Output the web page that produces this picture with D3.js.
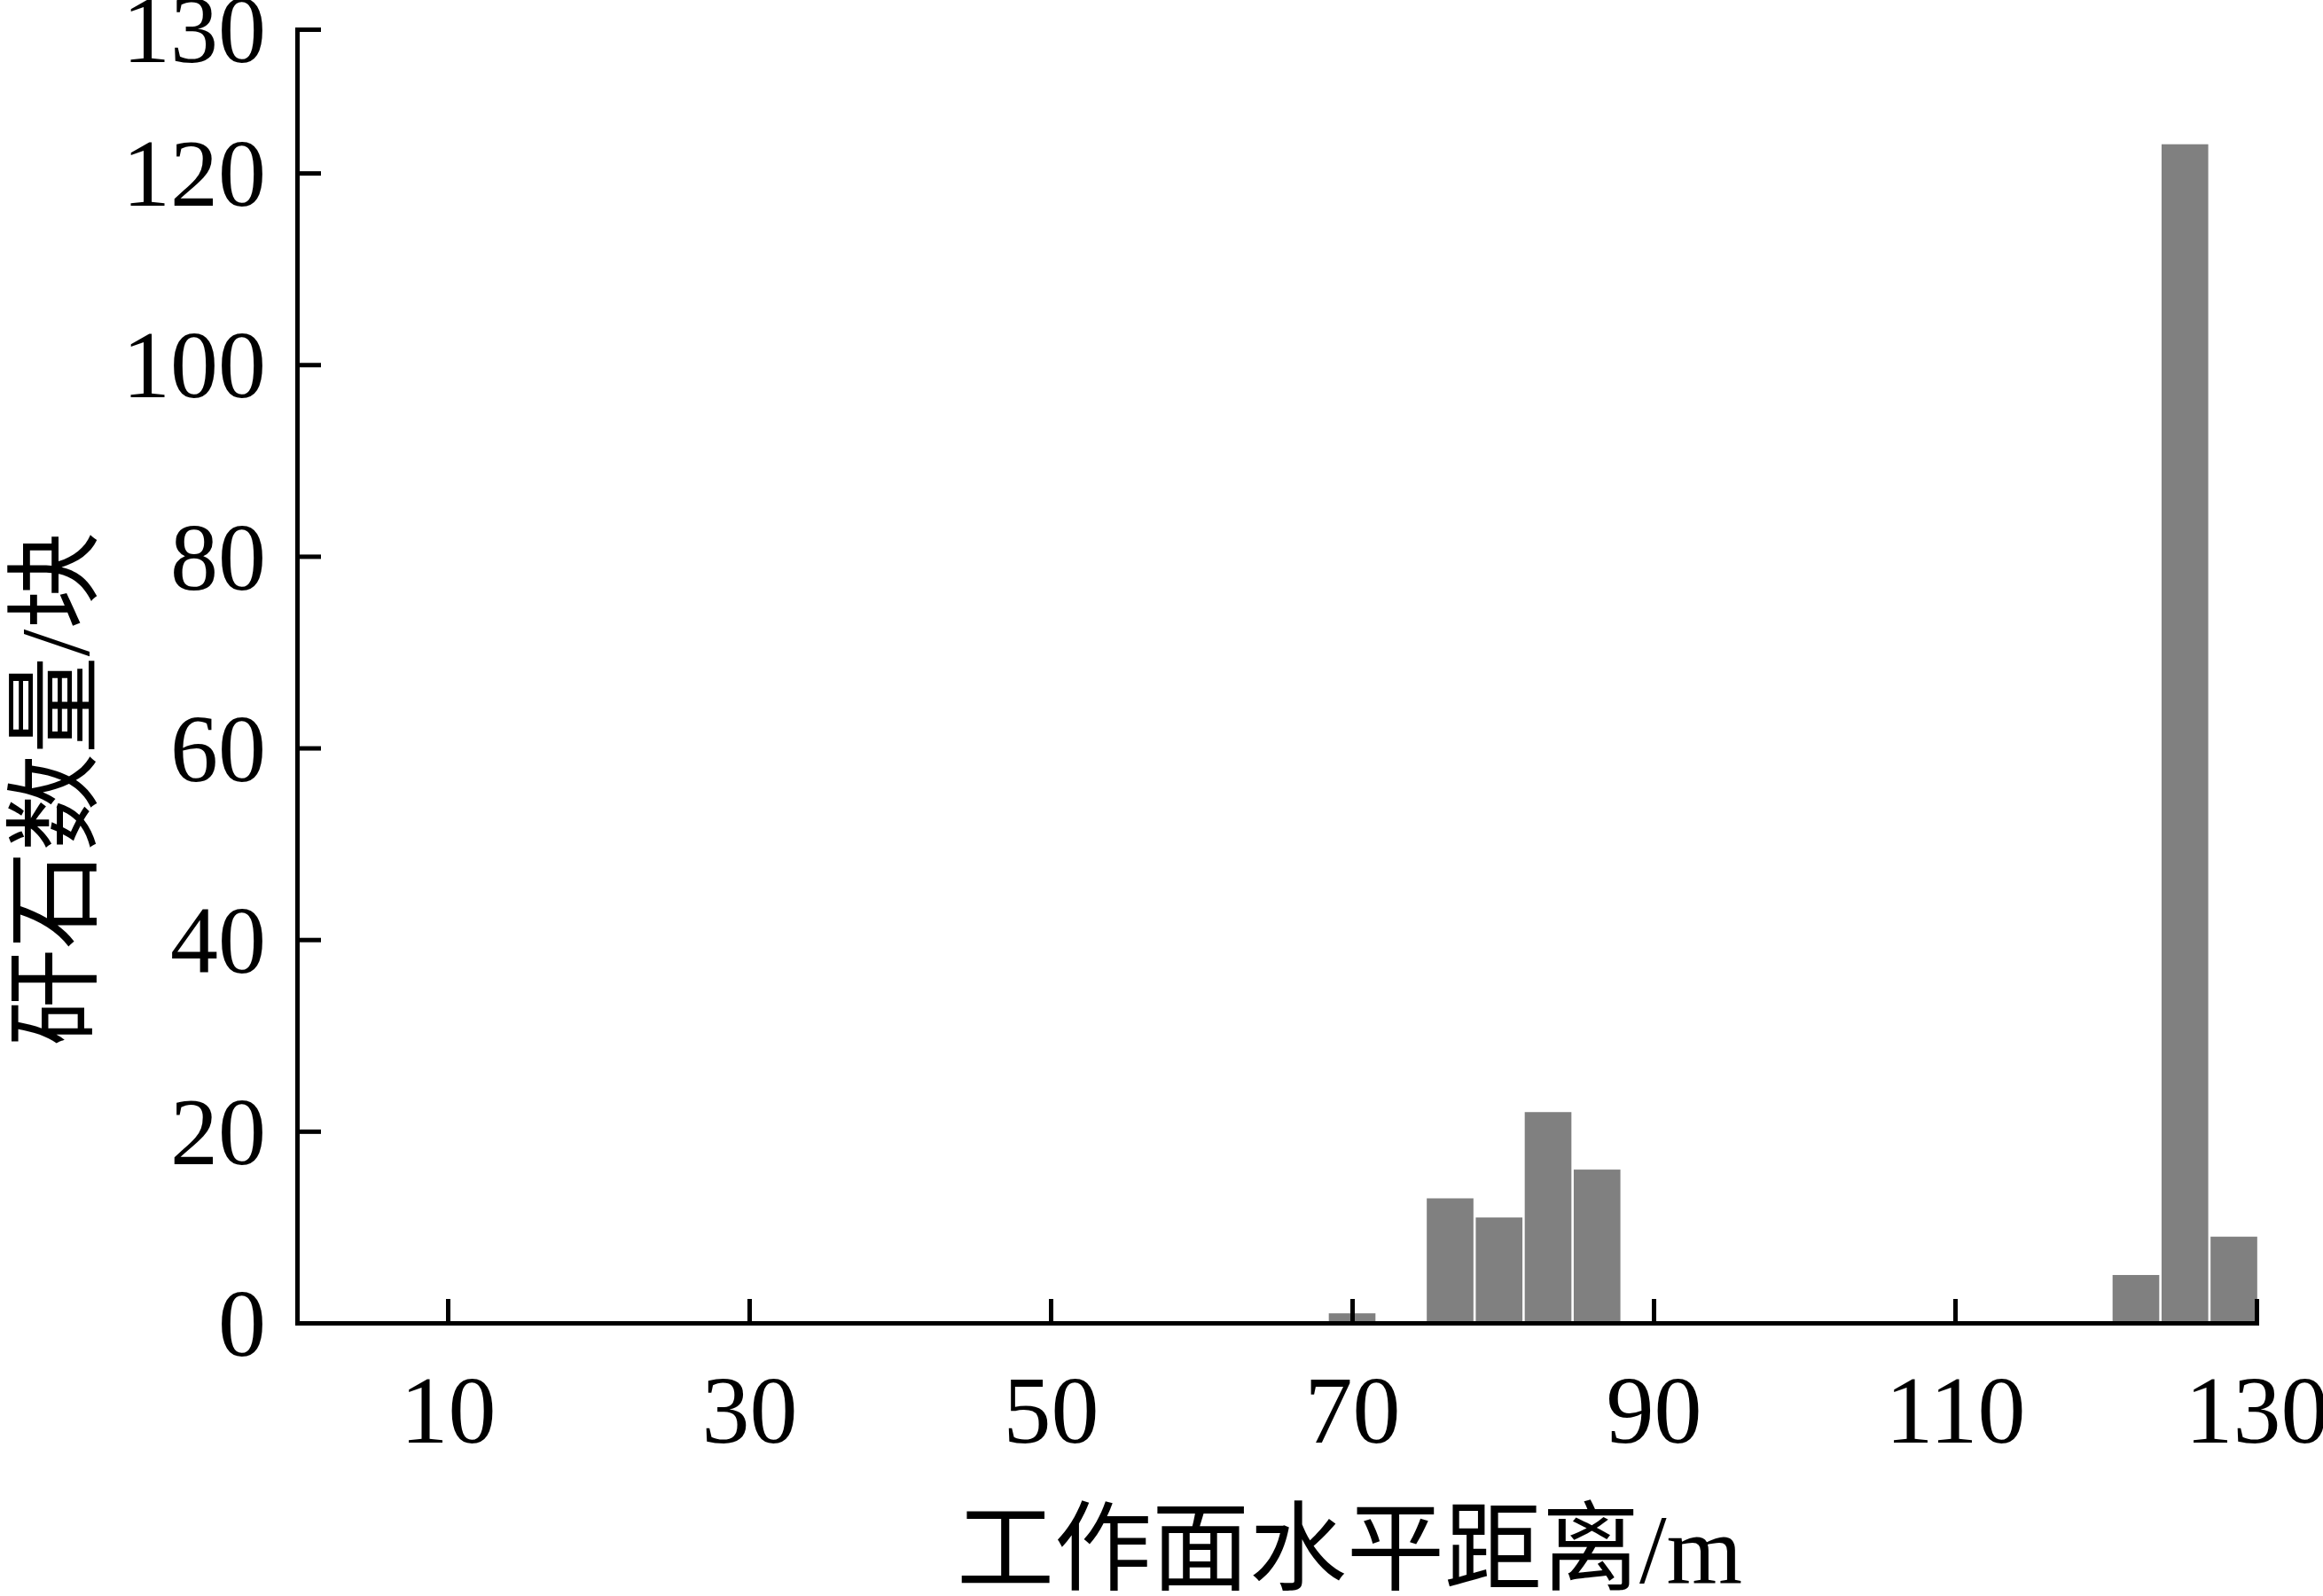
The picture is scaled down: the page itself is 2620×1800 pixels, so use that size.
<!DOCTYPE html>
<html>
<head>
<meta charset="utf-8">
<script src="https://cdn.jsdelivr.net/npm/d3@7"></script>
<style>
  body { margin: 0; background: #fff; }
  text { font-family: "Liberation Serif", "Times New Roman", "Noto Sans CJK SC", serif; fill: #000; }
</style>
</head>
<body>
<div id="chart"></div>
<script>
// bin centres (m) and gangue counts
var binCenters = [70, 76.5, 79.75, 83, 86.25, 122, 125.25, 128.5];
var counts = [1, 13, 11, 22, 16, 5, 123, 9];
var binWidth = 3.25;

var xTicks = [10, 30, 50, 70, 90, 110, 130];
var yTicks = [0, 20, 40, 60, 80, 100, 120, 135];
var yTickLabels = ["0", "20", "40", "60", "80", "100", "120", "130"];

var xTitle = "工作面水平距离/m";
var yTitle = "矸石数量/块";

var width = 2620, height = 1800;
var plotLeft = 335, plotRight = 2545, plotTop = 33, plotBottom = 1492;

var svg = d3.select("#chart").append("svg")
    .attr("width", width)
    .attr("height", height);

var x = d3.scaleLinear().domain([0, 130]).range([plotLeft, plotRight]);
var y = d3.scaleLinear().domain([0, 135]).range([plotBottom, plotTop]);

var data = binCenters.map(function(c, i){ return {c: c, v: counts[i]}; });

// bars
svg.append("g").selectAll("rect")
    .data(data).enter().append("rect")
    .attr("x", function(d){ return x(d.c - binWidth / 2) + 1.3; })
    .attr("width", function(d){ return x(d.c + binWidth / 2) - x(d.c - binWidth / 2) - 2.6; })
    .attr("y", function(d){ return y(d.v); })
    .attr("height", function(d){ return y(0) - y(d.v); })
    .attr("fill", "#808080");

// x axis, ticks pointing inward
var xAxis = svg.append("g")
    .attr("transform", "translate(0," + plotBottom + ")")
    .call(d3.axisBottom(x).tickValues(xTicks).tickSizeInner(-27).tickSizeOuter(0).tickFormat(d3.format("d")));

// y axis
var yAxis = svg.append("g")
    .attr("transform", "translate(" + plotLeft + ",0)")
    .call(d3.axisLeft(y).tickValues(yTicks).tickSizeInner(-27).tickSizeOuter(0)
        .tickPadding(35)
        .tickFormat(function(d, i){ return yTickLabels[i]; }));

[xAxis, yAxis].forEach(function(a){
    a.select(".domain").attr("stroke", "#000").attr("stroke-width", 5).attr("stroke-linecap", "square");
    a.selectAll(".tick line").attr("stroke", "#000").attr("stroke-width", 5);
    a.selectAll(".tick text").attr("font-size", 108).attr("fill", "#000")
        .style("font-family", "'Liberation Serif', serif");
});
xAxis.selectAll(".tick text").attr("y", 135).attr("dy", 0);
yAxis.selectAll(".tick text").attr("dy", "0.34em");

// axis titles
svg.append("text")
    .attr("x", 1522)
    .attr("y", 1785)
    .attr("text-anchor", "middle")
    .attr("font-size", 110)
    .text(xTitle);

svg.append("text")
    .attr("transform", "translate(100,890) rotate(-90)")
    .attr("text-anchor", "middle")
    .attr("font-size", 110)
    .text(yTitle);
</script>
</body>
</html>
